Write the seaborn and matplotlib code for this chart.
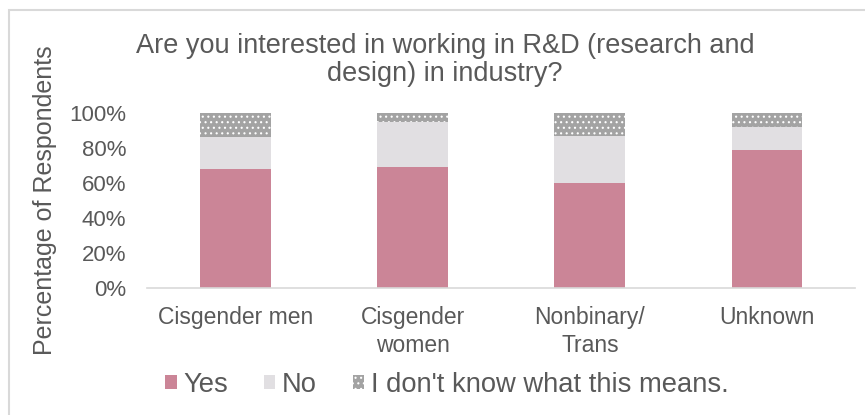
import matplotlib
matplotlib.use("Agg")
import matplotlib.pyplot as plt
from matplotlib.patches import Rectangle, Patch
import seaborn as sns
import pandas as pd
import numpy as np

categories = ["Cisgender men", "Cisgender\nwomen", "Nonbinary/\nTrans", "Unknown"]
yes = [68, 69, 60, 79]
no = [18, 26, 27, 13]
dont_know = [14, 5, 13, 8]
series_names = ["Yes", "No", "I don't know what this means."]
yticks = [0, 20, 40, 60, 80, 100]
ytick_labels = ["0%", "20%", "40%", "60%", "80%", "100%"]

c_yes = "#CB8597"
c_no = "#E1DFE2"
c_idk = "#A3A3A3"
txt = "#595959"

plt.rcParams["font.family"] = ["Liberation Sans", "DejaVu Sans"]
plt.rcParams["hatch.linewidth"] = 0.8

df = pd.DataFrame({"cat": categories, "yes": yes, "no": no, "idk": dont_know})
df["c1"] = df["yes"]
df["c2"] = df["yes"] + df["no"]
df["c3"] = df["yes"] + df["no"] + df["idk"]

fig = plt.figure(figsize=(8.65, 4.15), dpi=100)
ax = fig.add_axes([147 / 865, 1 - 288 / 415, (855.5 - 147) / 865, 175 / 415])

sns.barplot(data=df, x="cat", y="c3", color=c_idk, width=0.4, ax=ax, errorbar=None,
            saturation=1, hatch="...", edgecolor="white", linewidth=0)
sns.barplot(data=df, x="cat", y="c2", color=c_no, width=0.4, ax=ax, errorbar=None,
            saturation=1, linewidth=0)
sns.barplot(data=df, x="cat", y="c1", color=c_yes, width=0.4, ax=ax, errorbar=None,
            saturation=1, linewidth=0)

ax.set_ylim(0, 100)
ax.set_xlim(-0.5, len(categories) - 0.5)
ax.set_yticks(yticks)
ax.set_yticklabels(ytick_labels)
ax.set_xlabel("")
ax.set_ylabel("")
for s in ["top", "right", "left"]:
    ax.spines[s].set_visible(False)
ax.spines["bottom"].set_color("#D9D9D9")
ax.spines["bottom"].set_linewidth(1.2)
ax.tick_params(axis="both", length=0, colors=txt)
ax.tick_params(axis="y", labelsize=16, pad=15)
ax.tick_params(axis="x", labelsize=16.5, pad=13)
for lab in ax.get_xticklabels():
    lab.set_linespacing(1.25)

fig.text(445 / 865, 1 - 60 / 415,
         "Are you interested in working in R&D (research and\ndesign) in industry?",
         ha="center", va="center", fontsize=19.5, color=txt, linespacing=1.1)
fig.text(45 / 865, 1 - 200 / 415, "Percentage of Respondents", rotation=90,
         ha="center", va="center", fontsize=18, color=txt)

handles = [Patch(facecolor=c_yes, edgecolor="none"),
           Patch(facecolor=c_no, edgecolor="none"),
           Patch(facecolor=c_idk, edgecolor="white", hatch="...", linewidth=0)]
leg = fig.legend(handles, series_names, ncol=3, loc="center",
                 bbox_to_anchor=(447 / 865, 1 - 385 / 415), frameon=False,
                 fontsize=19.7, handlelength=0.42, handleheight=0.42,
                 handletextpad=0.25, columnspacing=1.3)
for t in leg.get_texts():
    t.set_color(txt)

fig.patches.append(Rectangle((9 / 865, -0.1), 1.2, 1.1 - 10 / 415 + 0.0,
                             transform=fig.transFigure, fill=False,
                             edgecolor="#D9D9D9", linewidth=1.5))

fig.savefig("out.png", dpi=100, facecolor="white")
